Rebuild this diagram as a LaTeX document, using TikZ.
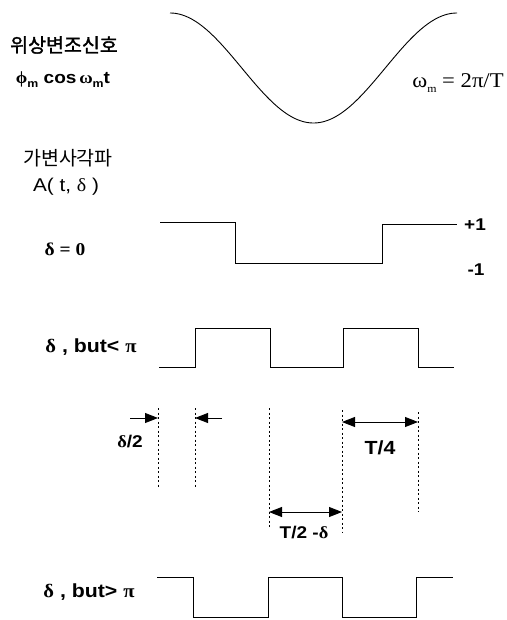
\documentclass[tikz,border=0pt]{standalone}
\usepackage{fontspec}
\setmainfont{Liberation Sans}[FakeStretch=1.12]
\newfontfamily\kr{Noto Sans CJK KR}
\newfontfamily\krb[FakeBold=1.5]{Noto Sans CJK KR}
\newfontfamily\gk{Liberation Serif}[FakeStretch=1.08]
\usetikzlibrary{arrows.meta}
\newcommand\sbm[1]{\raisebox{-0.45ex}{\fontsize{11}{11}\selectfont #1}}
\tikzset{
  wave/.style={line width=0.9pt},
  guide/.style={line width=0.9pt, dash pattern=on 2pt off 2.5pt},
  dim/.style={line width=0.9pt, -{Triangle[length=13pt,width=10pt]}},
  ddim/.style={line width=0.9pt, {Triangle[length=13pt,width=10pt]}-{Triangle[length=13pt,width=10pt]}},
  lbl/.style={font=\fontsize{17}{19}\selectfont\bfseries, inner sep=0pt},
  big/.style={font=\fontsize{19}{21}\selectfont\bfseries, inner sep=0pt},
  srf/.style={font=\fontsize{21}{23}\selectfont\gk, inner sep=0pt},
  krl/.style={font=\fontsize{19.5}{21}\selectfont, inner sep=0pt}
}
\begin{document}
\begin{tikzpicture}[x=1pt,y=-1pt]
\useasboundingbox (0,0) rectangle (506,620);
% labels
\node[krl] (k1) at (64,45) {\krb 위상변조신호};
\node[lbl] (phi) at (63,80) {{\gk\bfseries ϕ}\sbm{m} cos\,{\gk ω}\sbm{m}t};
\node[srf] (om) at (458,83) {ω\sbm{m} = 2π/T};
\node[krl] (k2) at (68,158) {\kr 가변사각파};
\node[lbl,font=\fontsize{18.5}{20}\selectfont] (A) at (66,187) {A( t, {\gk δ} )};
\node[srf,font=\fontsize{18}{20}\selectfont\gk\bfseries] (d0) at (65,249) {δ = 0};
\node[lbl] (p1) at (475,225) {+1};
\node[lbl] (m1) at (476,270) {-1};
\node[big] (dlt) at (91,347) {{\gk δ} , but< {\gk π}};
\node[big] (dgt) at (89,592) {{\gk δ} , but> {\gk π}};
\node[lbl] (dh) at (130,442) {{\gk δ}/2};
\node[big] (t4) at (380,448) {T/4};
\node[lbl] (t2) at (304,533) {T/2 -{\gk δ}};
% cosine
\draw[wave] plot[domain=0:360, samples=120] ({170+0.797222*\x},{68-55*cos(\x)});
% delta = 0
\draw[wave] (160,222) -- (235,222) -- (235,263) -- (382,263) -- (382,224) -- (457,224);
% delta < pi
\draw[wave] (159,367) -- (195,367) -- (195,328) -- (270,328) -- (270,367) -- (343,367) -- (343,328) -- (418,328) -- (418,367) -- (454,367);
% delta > pi
\draw[wave] (157,577) -- (193,577) -- (193,617) -- (268,617) -- (268,577) -- (342,577) -- (342,617) -- (416,617) -- (416,577) -- (453,577);
% guides
\coordinate (g1t) at (158,408); \coordinate (g1b) at (158,488);
\coordinate (g2t) at (195,408); \coordinate (g2b) at (195,488);
\coordinate (g3t) at (269,408); \coordinate (g3b) at (269,528);
\coordinate (g4t) at (342,410); \coordinate (g4b) at (342,532);
\coordinate (g5t) at (418,412); \coordinate (g5b) at (418,512);
\draw[guide] (g1t) -- (g1b);
\draw[guide] (g2t) -- (g2b);
\draw[guide] (g3t) -- (g3b);
\draw[guide] (g4t) -- (g4b);
\draw[guide] (g5t) -- (g5b);
% dimension arrows
\coordinate (a1s) at (130,418); \coordinate (a1e) at (158,418);
\coordinate (a2s) at (222,418); \coordinate (a2e) at (195,418);
\draw[dim] (a1s) -- (a1e);
\draw[dim] (a2s) -- (a2e);
\coordinate (b1) at (342,422); \coordinate (b2) at (418,422);
\draw[ddim] (b1) -- (b2);
\coordinate (c1) at (269,512); \coordinate (c2) at (342,512);
\draw[ddim] (c1) -- (c2);
\end{tikzpicture}
\end{document}
